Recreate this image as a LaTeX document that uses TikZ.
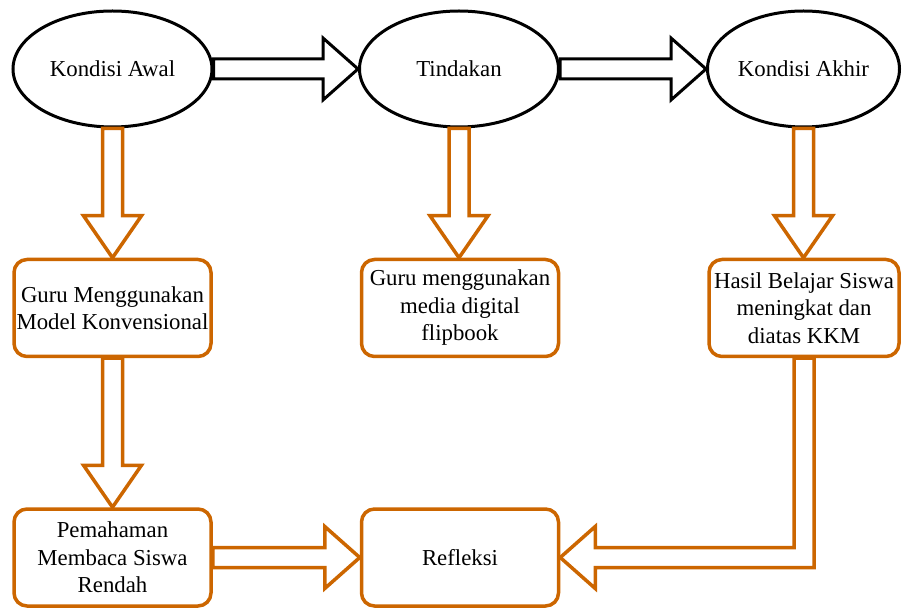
\documentclass[tikz,border=0pt]{standalone}
\usepackage{fontspec}
\setmainfont{Liberation Serif}
\usetikzlibrary{shapes.geometric,calc}
\definecolor{org}{RGB}{204,102,0}
\tikzset{
  txt/.style={font=\fontsize{22.8}{27.5}\selectfont},
  ell/.style={ellipse,draw=black,line width=3pt,fill=white,inner sep=0pt,minimum height=116pt,txt},
  box/.style={rectangle,rounded corners=13pt,draw=org,line width=3.5pt,fill=white,inner sep=0pt,minimum width=197pt,minimum height=97pt,align=center,txt},
  blk/.style={draw=black,line width=3pt,fill=white,line join=miter},
  oar/.style={draw=org,line width=3.5pt,fill=white,line join=miter}
}
\newcommand\harr[3]{\draw[#1] let \p1=(#2), \p2=(#3) in
  (\x1,\y1+10pt) -- (\x2-35pt,\y1+10pt) -- (\x2-35pt,\y1+31pt) -- (\x2,\y1)
  -- (\x2-35pt,\y1-31pt) -- (\x2-35pt,\y1-10pt) -- (\x1,\y1-10pt) -- cycle;}
\newcommand\varr[3]{\draw[#1] let \p1=(#2), \p2=(#3) in
  (\x1-10pt,\y1) -- (\x1-10pt,\y2+42pt) -- (\x1-29pt,\y2+42pt) -- (\x1,\y2)
  -- (\x1+29pt,\y2+42pt) -- (\x1+10pt,\y2+42pt) -- (\x1+10pt,\y1) -- cycle;}
\begin{document}
\begin{tikzpicture}[x=1pt,y=-1pt]
\useasboundingbox (0,0) rectangle (902,609);
\node[ell,minimum width=199pt] (ka) at (112.5,69) {Kondisi Awal};
\node[ell,minimum width=199pt] (ti) at (459,69) {Tindakan};
\node[ell,minimum width=192pt] (kk) at (803.5,69) {Kondisi Akhir};
\node[box] (b1) at (112.5,308) {Guru Menggunakan\\Model Konvensional};
\node[box] (b2) at (460,308) {Guru menggunakan\\media digital\\flipbook};
\node[box,minimum width=190pt] (b3) at (804,308) {Hasil Belajar Siswa\\meningkat dan\\diatas KKM};
\node[box] (b4) at (112.5,557.5) {Pemahaman\\Membaca Siswa\\Rendah};
\node[box] (rf) at (460,557.5) {Refleksi};
\harr{blk}{ka.east}{ti.west}
\harr{blk}{ti.east}{kk.west}
\varr{oar}{ka.south}{b1.north}
\varr{oar}{ti.south}{b2.north}
\varr{oar}{kk.south}{b3.north}
\varr{oar}{b1.south}{b4.north}
\harr{oar}{b4.east}{rf.west}
\draw[oar] let \p1=(b3.south), \p2=(rf.east) in
  (\x1-10pt,\y1) -- (\x1-10pt,\y2+10pt) -- (\x2+35pt,\y2+10pt) -- (\x2+35pt,\y2+31pt)
  -- (\x2,\y2) -- (\x2+35pt,\y2-31pt) -- (\x2+35pt,\y2-10pt) -- (\x1+10pt,\y2-10pt)
  -- (\x1+10pt,\y1) -- cycle;
\end{tikzpicture}
\end{document}
